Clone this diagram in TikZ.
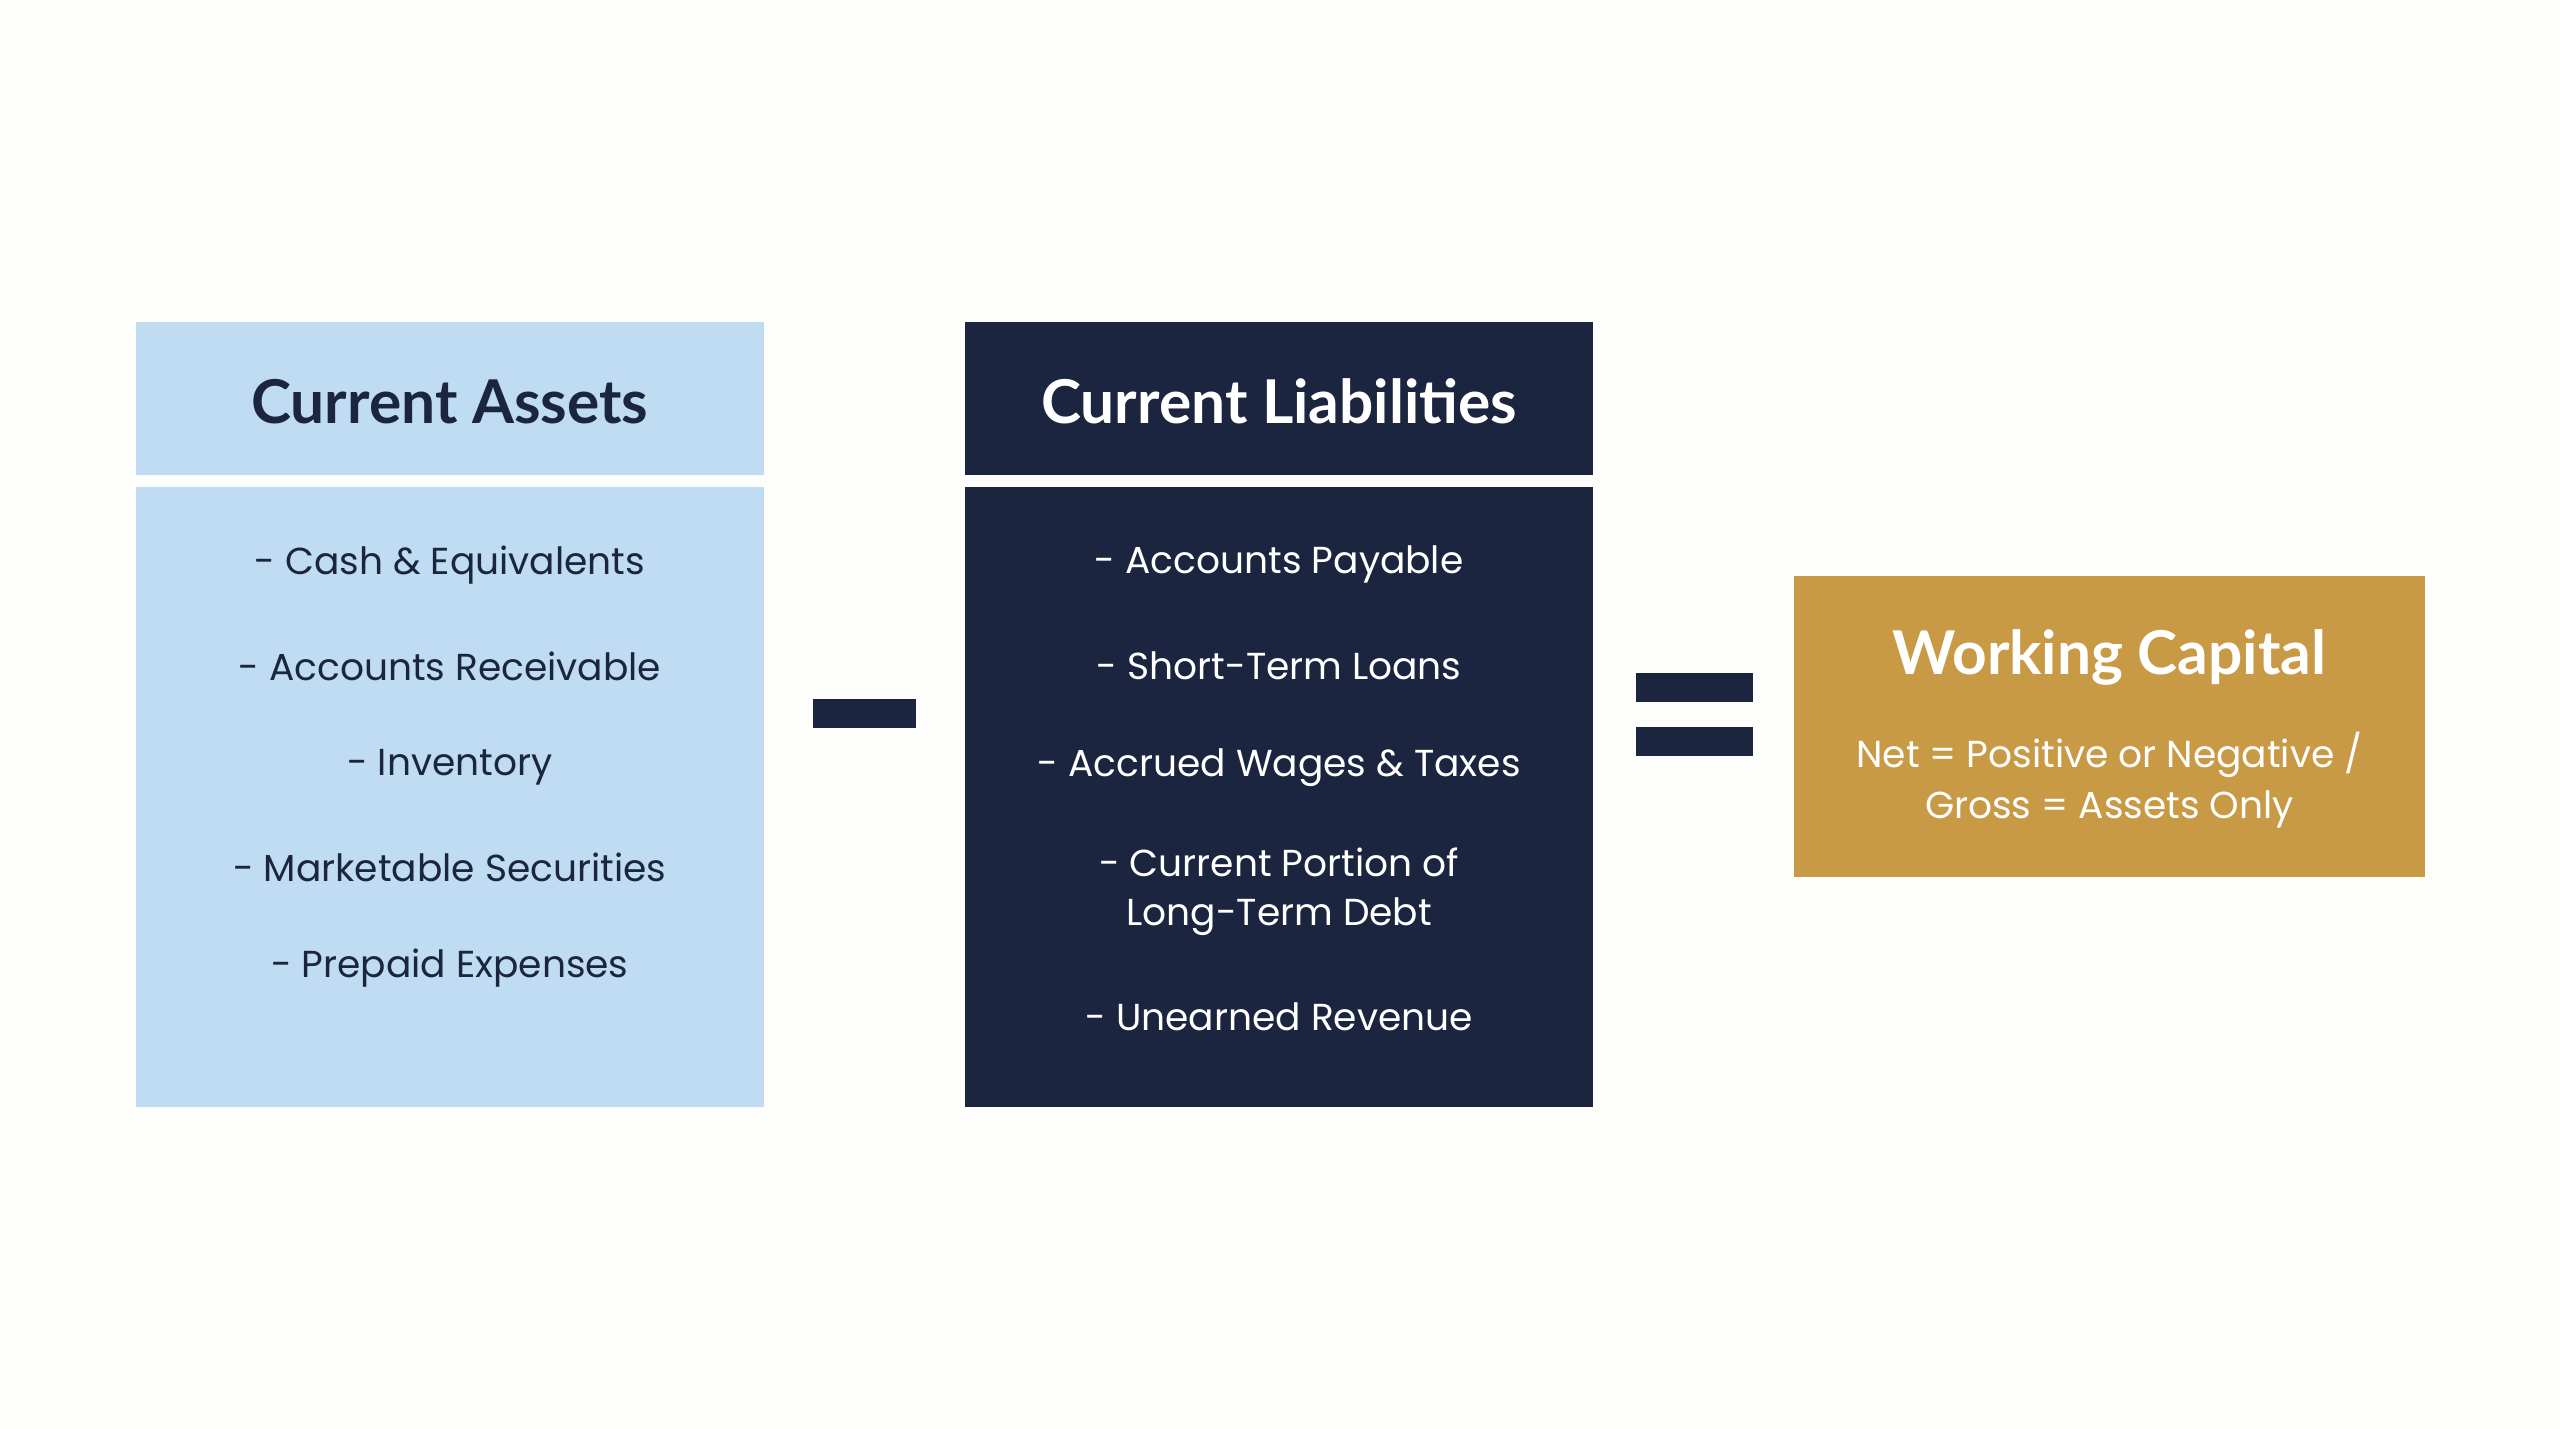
\documentclass[tikz,border=0pt]{standalone}
\usepackage{fontspec}
\setmainfont{Poppins}
\newfontfamily\headfont{Lato}
\definecolor{bg}{HTML}{FDFDFB}
\definecolor{lblue}{HTML}{BFDCF2}
\definecolor{navy}{HTML}{1B2540}
\definecolor{gold}{HTML}{C99A45}
\begin{document}
\begin{tikzpicture}[x=1pt,y=-1pt,
  head/.style={font=\headfont\bfseries\fontsize{37}{40}\selectfont},
  item/.style={font=\fontsize{23}{30}\selectfont,align=center},
  box/.style={draw=none,inner sep=0}]
\fill[bg] (0,0) rectangle (1568,875);
\useasboundingbox (0,0) rectangle (1568,875);
% assets
\fill[lblue] (83,197) rectangle (468,291);
\fill[lblue] (83,298) rectangle (468,678);
\node[head,text=navy] (ah) at (275.5,246) {Current Assets};
\foreach \t/\y [count=\i] in {{- Cash \& Equivalents}/346,{- Accounts Receivable}/408,{- Inventory}/470,{- Marketable Securities}/531,{- Prepaid Expenses}/593}
  \node[item,text=navy] (a\i) at (275.5,\y) {\t};
% minus
\fill[navy] (498,428) rectangle (561,446);
% liabilities
\fill[navy] (591,197) rectangle (976,291);
\fill[navy] (591,298) rectangle (976,678);
\node[head,text=white] (lh) at (783.5,246) {Current Liabilities};
\foreach \t/\y [count=\i] in {{- Accounts Payable}/346,{- Short-Term Loans}/408,{- Accrued Wages \& Taxes}/470,{- Current Portion of\\Long-Term Debt}/546,{- Unearned Revenue}/623}
  \node[item,text=white] (l\i) at (783.5,\y) {\t};
% equals
\fill[navy] (1002,412) rectangle (1074,430);
\fill[navy] (1002,445) rectangle (1074,463);
% working capital
\fill[gold] (1099,353) rectangle (1485,537);
\node[head,text=white] (wh) at (1292,403) {Working Capital};
\node[item,text=white,font=\fontsize{23}{31}\selectfont] (wt) at (1292,478) {Net = Positive or Negative /\\Gross = Assets Only};
\end{tikzpicture}
\end{document}
